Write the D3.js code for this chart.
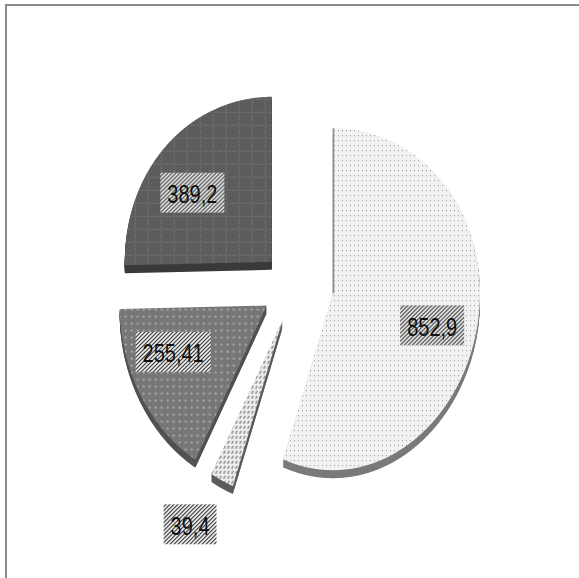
<!DOCTYPE html>
<html>
<head>
<meta charset="utf-8">
<script src="https://cdn.jsdelivr.net/npm/d3@7"></script>
<style>
  html, body { margin: 0; padding: 0; background: #fff; }
  svg { display: block; }
</style>
</head>
<body>
<svg id="chart" width="579" height="578"></svg>
<script>
// Slice values, clockwise from twelve o'clock
const values = [852.9, 39.4, 255.41, 389.2];
// Data label texts (comma as decimal separator)
const valueLabels = values.map(v => String(v).replace(".", ","));

// Styling per slice
const topFills  = ["url(#dotsLight)", "url(#lattice)", "url(#dotsMid)", "url(#weaveDark)"];
const sideFills = ["#7a7a7a", "#5c5c5c", "#525252", "#3a3a3a"];
// Label anchor per slice: direction (degrees, clockwise from top) and radius fraction
const labelDir  = [105.4, 208.5, 247.2, 307.4];
const labelFrac = [0.70, 1.32, 0.69, 0.68];

// Pie geometry: tilted disk seen slightly from the front
const width = 579, height = 578;
const cx = 297.5, cy = 287;
const rx = 147, ryMid = 171, ryTilt = 6;
const depth = 8, explode = 36;

const svg = d3.select("#chart");

// Patterns
const defs = svg.append("defs");
function pattern(id, w, h) {
  return defs.append("pattern").attr("id", id)
    .attr("width", w).attr("height", h).attr("patternUnits", "userSpaceOnUse");
}
{
  const p = pattern("dotsLight", 4, 5);
  p.append("rect").attr("width", 4).attr("height", 5).attr("fill", "#f2f2f2");
  p.append("rect").attr("x", 1).attr("y", 2).attr("width", 1).attr("height", 1).attr("fill", "#929292");
}
{
  const p = pattern("checkDark", 2, 2);
  p.append("rect").attr("width", 2).attr("height", 2).attr("fill", "#656565");
  p.append("rect").attr("width", 1).attr("height", 1).attr("fill", "#545454");
  p.append("rect").attr("x", 1).attr("y", 1).attr("width", 1).attr("height", 1).attr("fill", "#545454");
}
{
  const p = pattern("weaveDark", 13, 13);
  p.append("rect").attr("width", 13).attr("height", 13).attr("fill", "url(#checkDark)");
  p.append("path").attr("d", "M0,6.5H13M6.5,0V13")
    .attr("stroke", "#6f6f6f").attr("stroke-width", 1).attr("stroke-dasharray", "1,1");
}
{
  const p = pattern("dotsMid", 6, 7);
  p.append("rect").attr("width", 6).attr("height", 7).attr("fill", "#777");
  p.append("rect").attr("x", 2).attr("y", 3).attr("width", 2).attr("height", 2).attr("fill", "#a8a8a8");
}
{
  const p = pattern("lattice", 4, 5);
  p.append("rect").attr("width", 4).attr("height", 5).attr("fill", "#eeeeee");
  p.append("path").attr("d", "M1,4L2.5,1").attr("stroke", "#505050").attr("stroke-width", 1);
}
{
  const p = pattern("hatch", 4, 4);
  p.append("rect").attr("width", 4).attr("height", 4).attr("fill", "#fff");
  p.append("path").attr("d", "M-1,1L1,-1M0,4L4,0M3,5L5,3")
    .attr("stroke", "#1a1a1a").attr("stroke-width", 1.1);
}

// Frame lines along the top and left
svg.append("path")
  .attr("d", `M6,${height}V5H${width}`)
  .attr("fill", "none").attr("stroke", "#8a8a8a").attr("stroke-width", 2);

// Point on the slice rim for angle a (radians, clockwise from top) at radius fraction f
const ry = a => ryMid - ryTilt * Math.cos(a);
const rim = (a, f) => [f * rx * Math.sin(a), -f * ry(a) * Math.cos(a)];

const arcs = d3.pie().sort(null).value(d => d)(values);
const closed = d3.line().curve(d3.curveLinearClosed);

function sectorPath(d) {
  const n = Math.max(4, Math.ceil((d.endAngle - d.startAngle) / 0.004));
  const pts = [[0, 0]];
  for (let i = 0; i <= n; i++) {
    pts.push(rim(d.startAngle + (d.endAngle - d.startAngle) * i / n, 1));
  }
  return closed(pts);
}

const offsetOf = d => {
  const mid = (d.startAngle + d.endAngle) / 2;
  return [cx + explode * Math.sin(mid), cy - explode * Math.cos(mid)];
};

const slices = svg.append("g").selectAll("g.slice")
  .data(arcs).join("g").attr("class", "slice")
  .attr("transform", d => `translate(${offsetOf(d)})`);

// Side walls: stacked copies of the slice shifted downward
slices.each(function (d, i) {
  const g = d3.select(this);
  const path = sectorPath(d);
  for (let t = depth; t >= 1; t--) {
    g.append("path").attr("d", path)
      .attr("transform", `translate(0,${t})`)
      .attr("fill", sideFills[i]);
  }
  g.append("path").attr("d", path).attr("fill", topFills[i]);
});

// Visible inner face of the largest slice along its vertical edge
slices.filter((d, i) => i === 0).append("line")
  .attr("x1", 0.5).attr("y1", 0)
  .attr("x2", 0.5).attr("y2", d => rim(d.startAngle, 1)[1])
  .attr("stroke", "#8c8c8c").attr("stroke-width", 1.6);

// Data labels on hatched boxes
const labels = svg.append("g").selectAll("g.label")
  .data(arcs).join("g").attr("class", "label")
  .attr("transform", (d, i) => {
    const [ox, oy] = offsetOf(d);
    const [lx, ly] = rim(labelDir[i] * Math.PI / 180, labelFrac[i]);
    return `translate(${ox + lx},${oy + ly})`;
  });

labels.each(function (d, i) {
  const g = d3.select(this);
  const box = g.append("rect").attr("fill", "url(#hatch)");
  const txt = g.append("text")
    .attr("transform", "translate(0,2) scale(1,1.25)")
    .attr("text-anchor", "middle")
    .attr("dominant-baseline", "central")
    .attr("font-family", "'Liberation Sans', Arial, sans-serif")
    .attr("font-size", 20)
    .attr("fill", "#111")
    .text(valueLabels[i]);
  const w = txt.node().getComputedTextLength() + 14;
  const h = 40;
  box.attr("x", -w / 2).attr("y", -h / 2).attr("width", w).attr("height", h);
});
</script>
</body>
</html>
